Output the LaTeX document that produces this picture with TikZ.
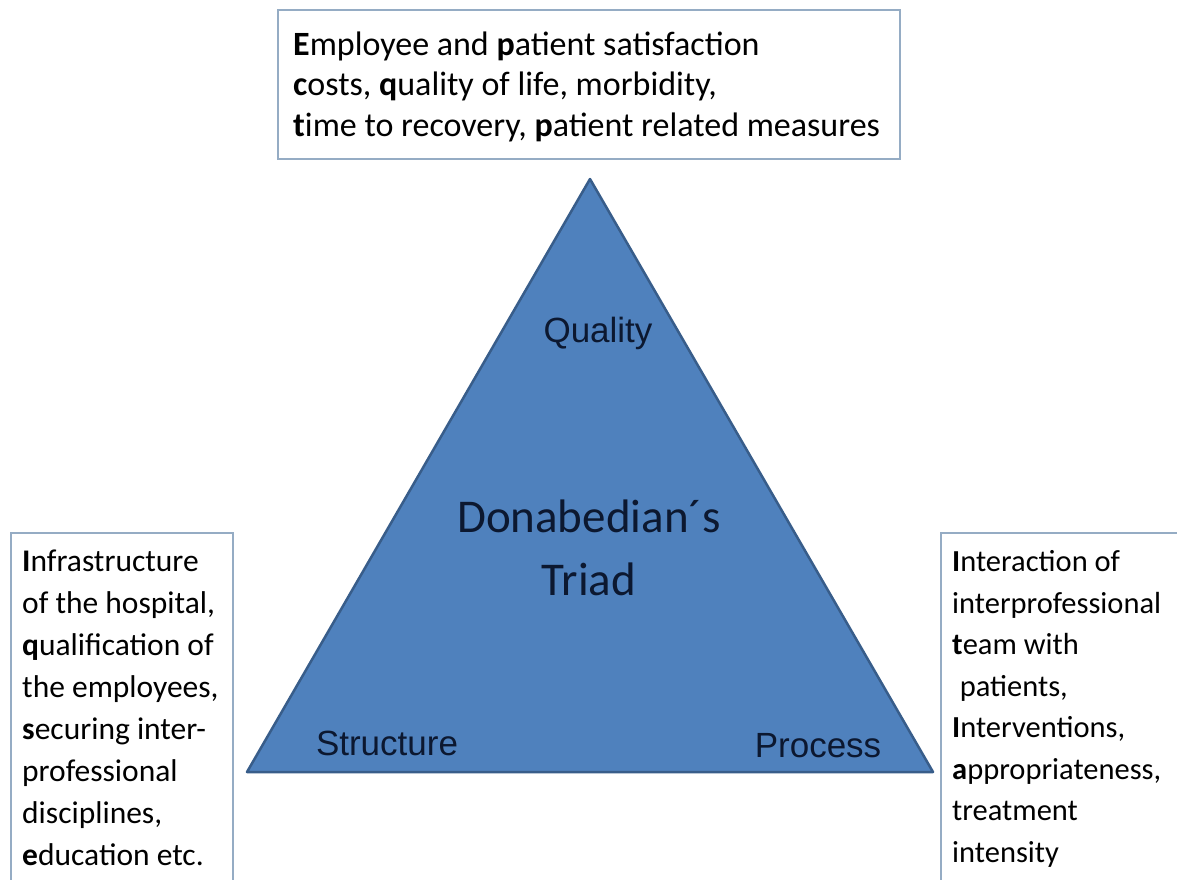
\documentclass[tikz,border=0pt]{standalone}
\usepackage{fontspec}
\setmainfont{Carlito}
\newfontfamily\arialfont{Liberation Sans}
\definecolor{triadblue}{HTML}{4F81BD}
\definecolor{triadedge}{HTML}{385D8A}
\definecolor{boxedge}{HTML}{95ACC4}
\definecolor{labelnavy}{HTML}{0C1830}

\begin{document}
\begin{tikzpicture}[
    x=1pt, y=-1pt,
    % === STYLES ===
    triad fill/.style={fill=triadblue, draw=triadedge, line width=2.5pt, line join=round},
    box line/.style={draw=boxedge, line width=1.5pt},
    box text/.style={anchor=base west, align=left, inner sep=0pt, text=black},
    corner label/.style={anchor=base, inner sep=0pt, text=labelnavy, font=\arialfont\fontsize{35}{40}\selectfont},
]
    % === CANVAS ===
    \useasboundingbox (0,0) rectangle (1177,879);
    \clip (0,0) rectangle (1177,879);
    \fill[white] (0,0) rectangle (1177,879);

    % === TRIANGLE CORNERS ===
    \coordinate (Q) at (590,179);
    \coordinate (S) at (247,772);
    \coordinate (P) at (933,772);

    % === TRIANGLE ===
    \draw[triad fill] (Q) -- (S) -- (P) -- cycle;

    % === FRAMES (the lower two run off the page) ===
    \draw[box line] (278,10) rectangle (900,159);
    \draw[box line] (11,533) rectangle (233,900);
    \draw[box line] (941,533) rectangle (1200,900);

    % === FRAME TEXTS (anchored at the last baseline) ===
    \node[box text, font=\fontsize{34}{40.5}\selectfont] (outcome) at (293,136)
        {\textbf{E}mployee and \textbf{p}atient satisfaction\\
         \textbf{c}osts, \textbf{q}uality of life, morbidity,\\
         \textbf{t}ime to recovery, \textbf{p}atient related measures};
    \node[box text, font=\fontsize{31.5}{42}\selectfont] (structure text) at (22,865)
        {\textbf{I}nfrastructure\\
         of the hospital,\\
         \textbf{q}ualification of\\
         the employees,\\
         \textbf{s}ecuring inter-\\
         professional\\
         disciplines,\\
         \textbf{e}ducation etc.};
    \node[box text, font=\fontsize{30.5}{41.5}\selectfont] (process text) at (952,862)
        {\textbf{I}nteraction of\\
         interprofessional\\
         \textbf{t}eam with\\
         \hspace*{0.25em}patients,\\
         \textbf{I}nterventions,\\
         \textbf{a}ppropriateness,\\
         treatment\\
         intensity};

    % === LABELS IN THE TRIANGLE ===
    \node[corner label] (quality) at (598,342) {Quality};
    \node[corner label] (structure) at (387,755) {Structure};
    \node[corner label] (process) at (818,757) {Process};
    \node[anchor=base, align=center, inner sep=0pt, text=labelnavy,
          font=\fontsize{47}{63}\selectfont] (triad) at (589,595)
        {Donabedian´s\\ Triad};

\end{tikzpicture}
\end{document}
